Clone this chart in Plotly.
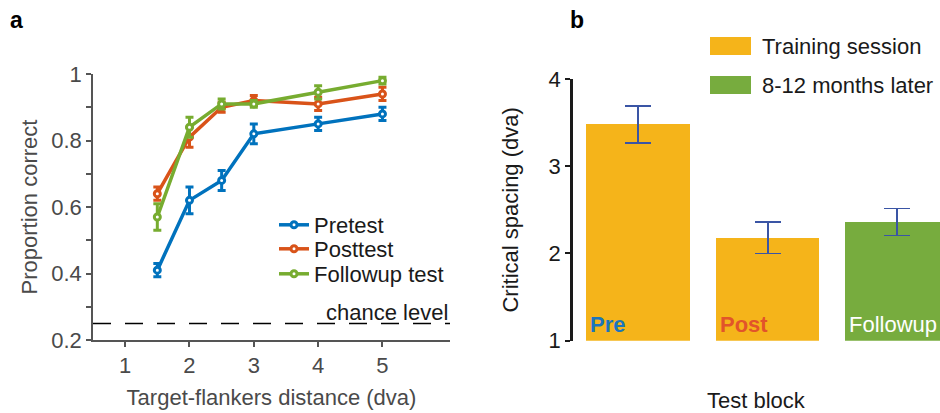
import plotly.graph_objects as go

# ---------- Panel a data ----------
distance = [1.5, 2, 2.5, 3, 4, 5]
pretest = [0.41, 0.62, 0.68, 0.82, 0.85, 0.88]
pretest_err = [0.02, 0.04, 0.03, 0.03, 0.02, 0.02]
posttest = [0.64, 0.81, 0.90, 0.92, 0.91, 0.94]
posttest_err = [0.02, 0.03, 0.015, 0.015, 0.02, 0.02]
followup = [0.57, 0.84, 0.91, 0.91, 0.945, 0.98]
followup_err = [0.04, 0.03, 0.015, 0.01, 0.02, 0.01]
chance_level = 0.25
a_yticks = [0.2, 0.3, 0.4, 0.5, 0.6, 0.7, 0.8, 0.9, 1.0]
a_yticktext = ["0.2", "", "0.4", "", "0.6", "", "0.8", "", "1"]
a_xticks = [1, 2, 3, 4, 5]

# ---------- Panel b data ----------
blocks = ["Pre", "Post", "Followup"]
spacing = [3.48, 2.18, 2.36]
spacing_err = [0.21, 0.18, 0.155]
b_yticks = [1, 2, 3, 4]

FONT = "Liberation Sans, Arial, Helvetica, sans-serif"
GRAY = "#4a4a4a"
DARK = "#1a1a1a"
BLUE = "#0072BD"
ORANGE = "#D95319"
GREEN = "#77AC30"
BAR_ORANGE = "#F5B41A"
BAR_GREEN = "#77AC3E"

W, H = 940, 413


def px(X):
    return X / W


def py(Y):
    return 1 - Y / H


fig = go.Figure()

series = [("Pretest", pretest, pretest_err, BLUE, "legend"),
          ("Posttest", posttest, posttest_err, ORANGE, "legend2"),
          ("Followup test", followup, followup_err, GREEN, "legend3")]
for name, vals, errs, col, leg in series:
    fig.add_trace(go.Scatter(
        x=distance, y=vals, name=name, mode="lines+markers",
        line=dict(color=col, width=3.5),
        marker=dict(symbol="circle", size=6, color="white",
                    line=dict(color=col, width=3)),
        error_y=dict(type="data", array=errs, color=col, thickness=3, width=4),
        xaxis="x", yaxis="y", showlegend=True, legend=leg,
    ))

# Panel b bars
bar_colors = [BAR_ORANGE, BAR_ORANGE, BAR_GREEN]
xpos = list(range(len(blocks)))
fig.add_trace(go.Bar(
    x=xpos, y=[v - 1 for v in spacing], base=1, width=0.8,
    marker=dict(color=bar_colors, line=dict(width=0)),
    error_y=dict(type="data", array=spacing_err, color="#3A55A5",
                 thickness=1.8, width=13),
    xaxis="x2", yaxis="y2", showlegend=False,
))

leg_common = dict(xanchor="left", yanchor="top", bgcolor="rgba(0,0,0,0)",
                  font=dict(size=22, color=DARK), itemwidth=30)

fig.update_layout(
    width=W, height=H,
    margin=dict(l=0, r=0, t=0, b=0, autoexpand=False),
    paper_bgcolor="white", plot_bgcolor="white",
    font=dict(family=FONT, size=22, color=GRAY),
    bargap=0,
    xaxis=dict(domain=[px(93), px(450)], range=[0.5, 6.05], tickvals=a_xticks,
               automargin=False,
               showline=True, linecolor="#555555", linewidth=1.5,
               ticks="outside", ticklen=5, tickcolor="#555555", tickwidth=1.5,
               showgrid=False, zeroline=False,
               tickfont=dict(size=22, color=GRAY),
               title=dict(text="Target-flankers distance (dva)",
                          font=dict(size=22, color=GRAY), standoff=12)),
    yaxis=dict(domain=[py(340), py(74)], range=[0.2, 1.0], tickvals=a_yticks,
               ticktext=a_yticktext, automargin=False,
               showline=True, linecolor="#555555", linewidth=1.5,
               ticks="outside", ticklen=5, tickcolor="#555555", tickwidth=1.5,
               showgrid=False, zeroline=False,
               tickfont=dict(size=22, color=GRAY),
               title=dict(text="Proportion correct",
                          font=dict(size=22, color=GRAY), standoff=8)),
    xaxis2=dict(domain=[px(573), px(940)], range=[-0.502, 2.33], anchor="y2",
                automargin=False,
                showline=False, showticklabels=False, ticks="",
                showgrid=False, zeroline=False),
    yaxis2=dict(domain=[py(340.7), py(79)], range=[1, 4], tickvals=b_yticks,
                anchor="x2", automargin=False,
                showline=True, linecolor=DARK, linewidth=2.5,
                ticks="outside", ticklen=5, tickcolor=DARK, tickwidth=2,
                showgrid=False, zeroline=False,
                tickfont=dict(size=22, color=DARK),
                title=dict(text="Critical spacing (dva)",
                           font=dict(size=22, color=DARK), standoff=24)),
    legend=dict(x=px(274), y=py(204), **leg_common),
    legend2=dict(x=px(274), y=py(228), **leg_common),
    legend3=dict(x=px(274), y=py(253), **leg_common),
)

shapes = [
    dict(type="line", xref="x domain", yref="y", x0=0, x1=1,
         y0=chance_level, y1=chance_level,
         line=dict(color="black", width=1.5, dash="18px,14px")),
    dict(type="rect", xref="paper", yref="paper",
         x0=px(710), x1=px(751), y0=py(55), y1=py(37),
         fillcolor=BAR_ORANGE, line=dict(width=0)),
    dict(type="rect", xref="paper", yref="paper",
         x0=px(710), x1=px(751), y0=py(94), y1=py(76),
         fillcolor=BAR_GREEN, line=dict(width=0)),
]
fig.update_layout(shapes=shapes)

label_colors = ["#1B75BC", "#E2542A", "white"]
label_bold = [True, True, False]
annotations = [
    dict(text="<b>a</b>", xref="paper", yref="paper", x=px(8), y=py(5),
         xanchor="left", yanchor="top", showarrow=False,
         font=dict(size=23, color="black")),
    dict(text="<b>b</b>", xref="paper", yref="paper", x=px(568), y=py(5),
         xanchor="left", yanchor="top", showarrow=False,
         font=dict(size=23, color="black")),
    dict(text="chance level", xref="x domain", yref="y", x=1, y=chance_level,
         xanchor="right", yanchor="bottom", showarrow=False, yshift=-4,
         font=dict(size=22, color=DARK)),
    dict(text="Training session", xref="paper", yref="paper",
         x=px(760), y=py(46), xanchor="left", yanchor="middle",
         showarrow=False, font=dict(size=22, color=DARK)),
    dict(text="8-12 months later", xref="paper", yref="paper",
         x=px(760), y=py(85), xanchor="left", yanchor="middle",
         showarrow=False, font=dict(size=22, color=DARK)),
    dict(text="Test block", xref="x2 domain", yref="paper",
         x=0.5, y=py(400), xanchor="center", yanchor="middle",
         showarrow=False, font=dict(size=22, color=DARK)),
]
for i, name in enumerate(blocks):
    txt = f"<b>{name}</b>" if label_bold[i] else name
    annotations.append(dict(
        text=txt, xref="x2", yref="y2", x=xpos[i] - 0.4, y=1,
        xanchor="left", yanchor="bottom", xshift=2, yshift=2, showarrow=False,
        font=dict(size=22, color=label_colors[i])))
fig.update_layout(annotations=annotations)

fig.write_html(
    "out.html",
    config={"displayModeBar": False},
    post_script="document.body.style.margin='0';"
                "document.body.style.overflow='hidden';",
)
